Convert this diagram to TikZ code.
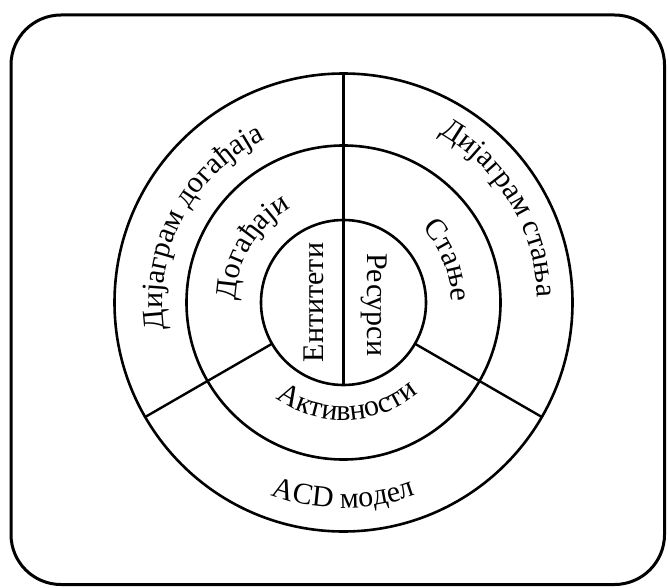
\documentclass[tikz,border=0pt]{standalone}
\usepackage{fontspec}
\setmainfont{Liberation Serif}
\usetikzlibrary{calc,decorations.text}

\tikzset{
  ring/.style={circle, draw, line width=2.6pt, inner sep=0pt, outer sep=0pt, minimum size=#1},
  divider/.style={line width=2.4pt},
  frame/.style={draw, line width=3pt, rounded corners=50pt},
  arclabel/.style={decorate, decoration={text along path, text align=center, text={#1}}},
  halflabel/.style={inner sep=0pt},
}

\begin{document}
\fontsize{30}{36}\selectfont
\begin{tikzpicture}[x=1pt, y=1pt]
  \useasboundingbox (0,0) rectangle (668,587);

  % outer frame
  \draw[frame] (11,2.5) rectangle (664.5,572);

  % concentric rings
  \coordinate (C) at (343.5,284.5);
  \node[ring=458pt] (outerc) at (C) {};
  \node[ring=314pt] (midc) at (C) {};
  \node[ring=165pt] (innerc) at (C) {};

  % sector dividers
  \draw[divider] (outerc.90) -- (innerc.270);
  \draw[divider] (innerc.210) -- (outerc.210);
  \draw[divider] (innerc.330) -- (outerc.330);

  % centre halves
  \node[halflabel, rotate=90] (ent) at (314,284.5) {Ентитети};
  \node[halflabel, rotate=-90] (res) at (374.3,282) {Ресурси};

  % middle ring labels
  \path[arclabel={Догађаји}]
    ([shift={(210:108pt)}]C) arc[start angle=210, end angle=88, radius=108pt];
  \path[arclabel={Стање}]
    ([shift={(82:108pt)}]C) arc[start angle=82, end angle=-38, radius=108pt];
  \path[arclabel={Активности}]
    ([shift={(212:117.5pt)}]C) arc[start angle=212, end angle=332, radius=117.5pt];

  % outer ring labels
  \path[arclabel={Дијаграм догађаја}]
    ([shift={(212:181pt)}]C) arc[start angle=212, end angle=92, radius=181pt];
  \path[arclabel={Дијаграм стања}]
    ([shift={(91:194pt)}]C) arc[start angle=91, end angle=-29, radius=194pt];
  \path[arclabel={ACD модел}]
    ([shift={(210:205.5pt)}]C) arc[start angle=210, end angle=330, radius=205.5pt];
\end{tikzpicture}
\end{document}
